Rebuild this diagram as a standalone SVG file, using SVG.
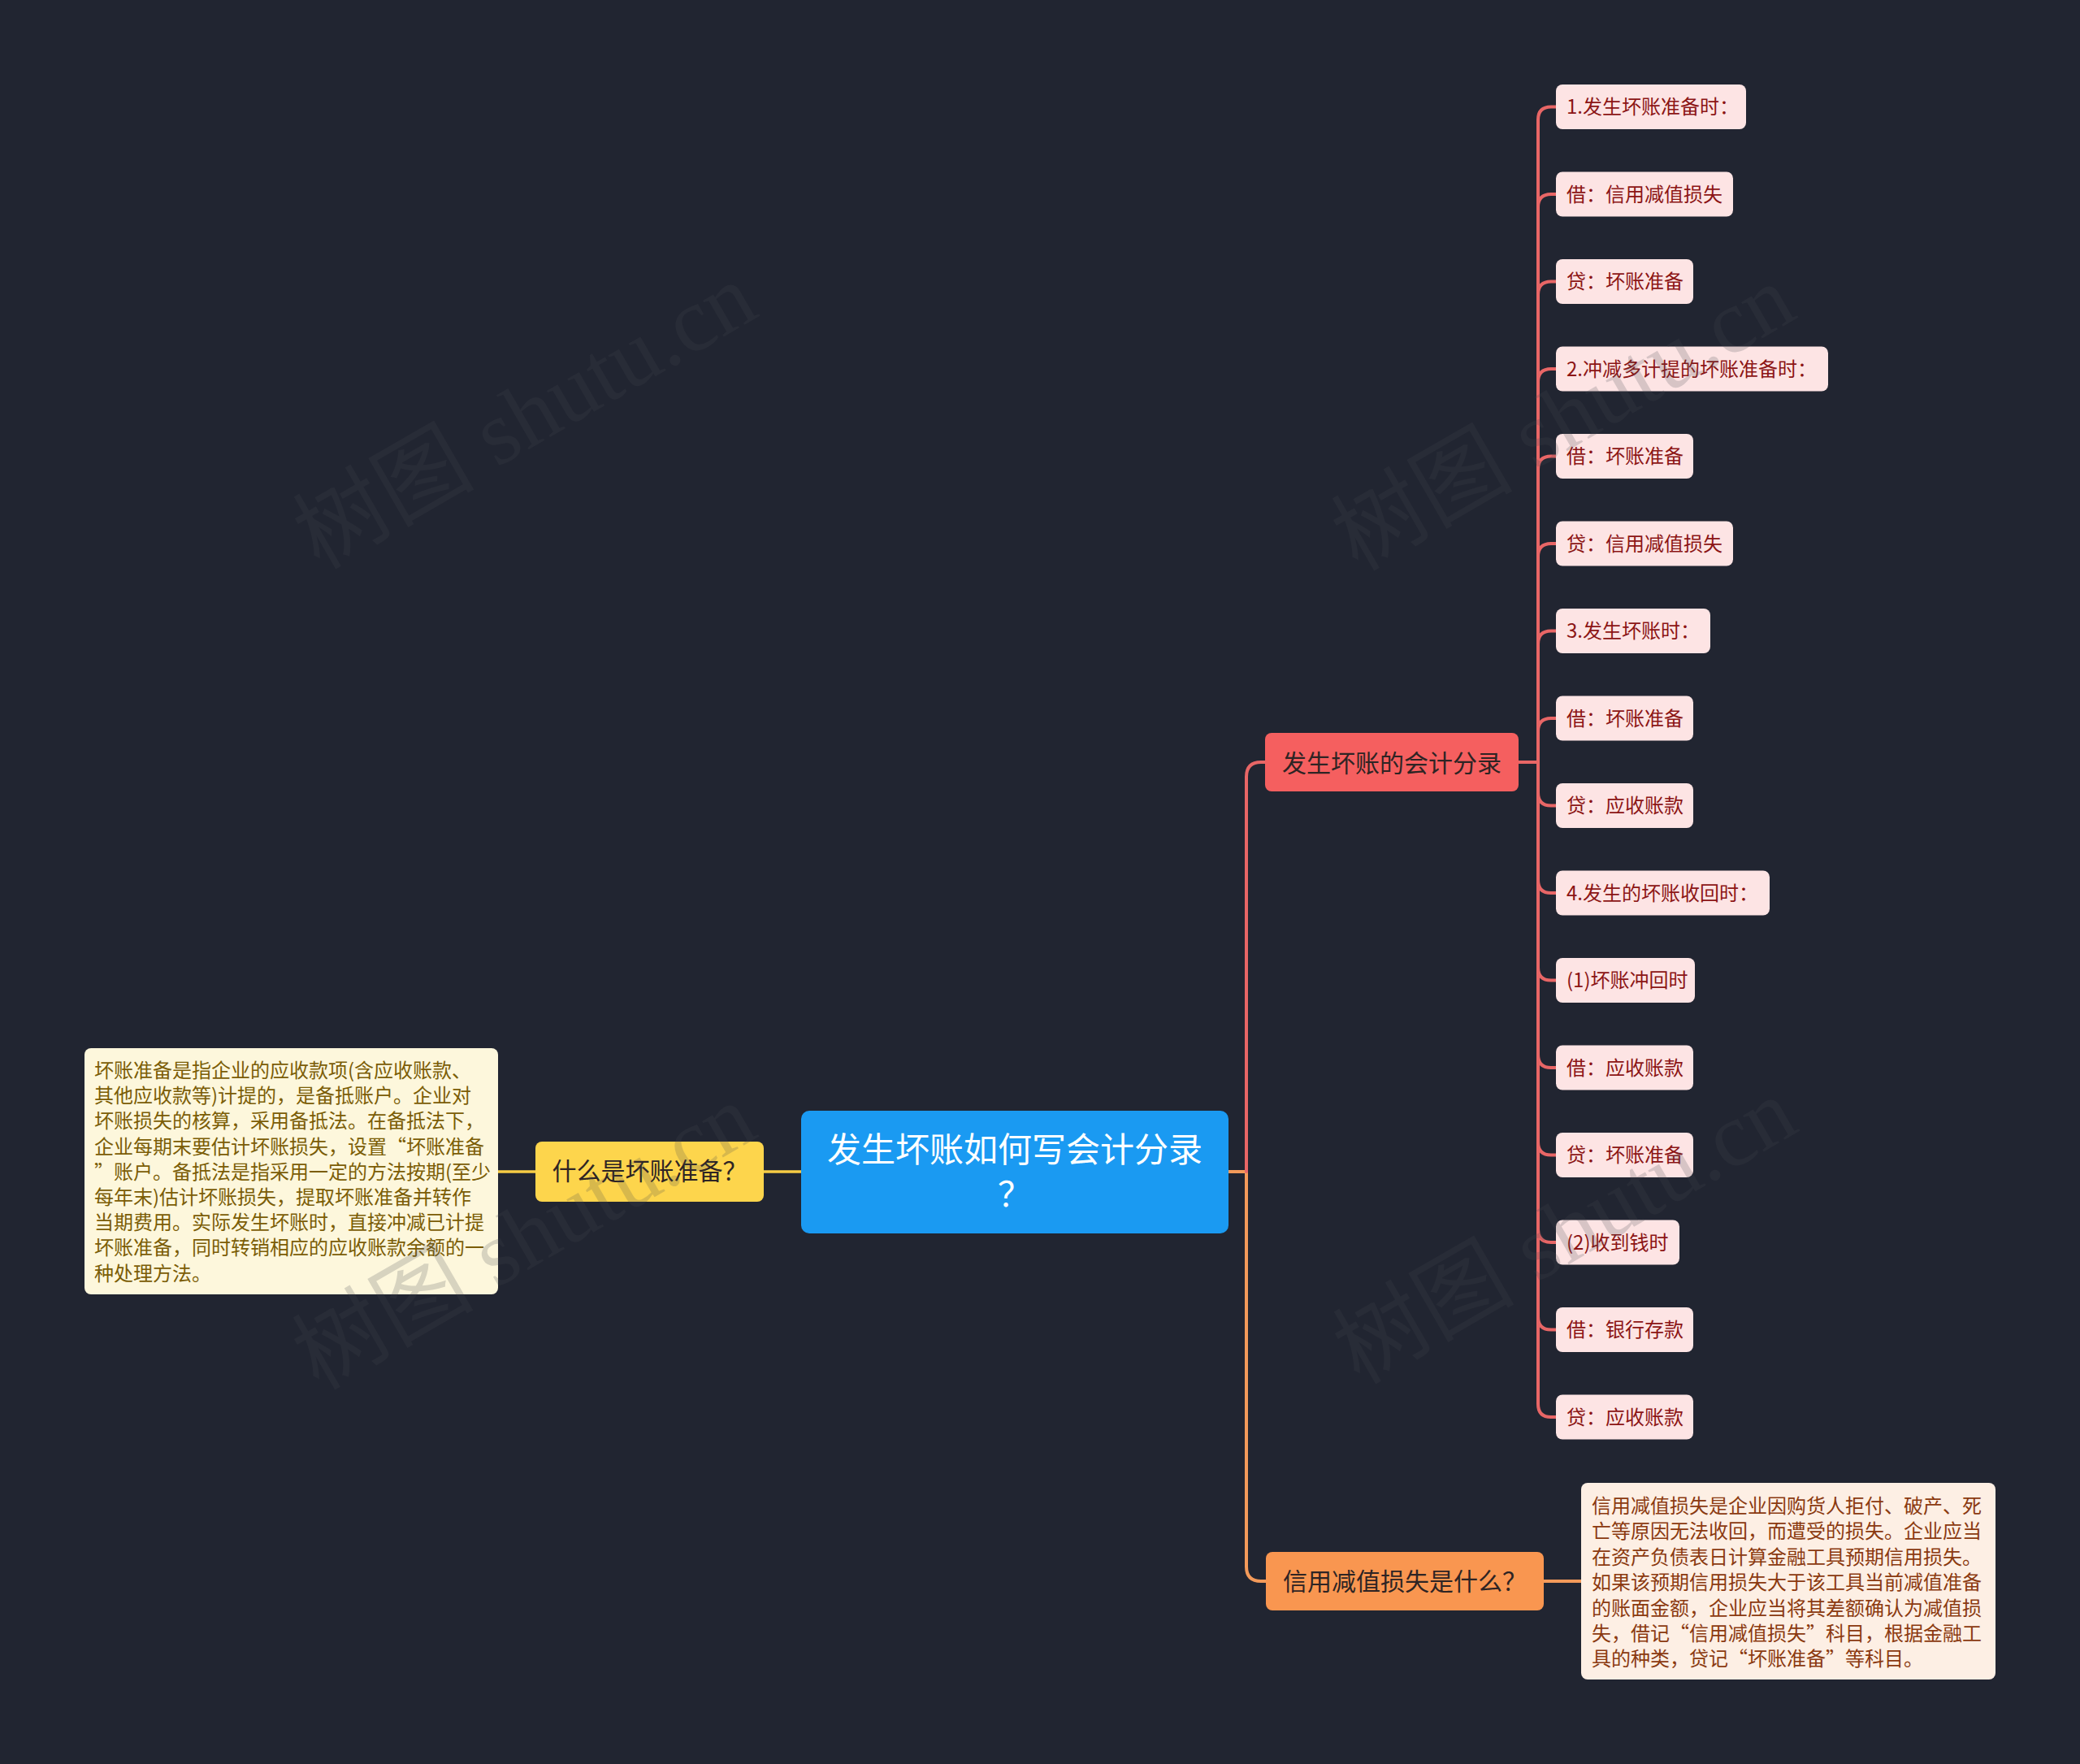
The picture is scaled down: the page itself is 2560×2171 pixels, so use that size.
<svg xmlns="http://www.w3.org/2000/svg" width="2560" height="2171" viewBox="0 0 2560 2171">
<style>
text{font-family:"Noto Sans CJK SC","Noto Sans",sans-serif}
.leaf rect{fill:#fde4e4}
.leaf text{font-size:24px;fill:#8c1515}
.lbl{font-size:30px;fill:#2e2424}
.body{font-size:24px}
.wm{font-family:"Liberation Serif","Noto Sans CJK SC",serif;font-size:112px;fill:#464850;opacity:0.2}
.cr{fill:none;stroke:#e86666;stroke-width:4;stroke-linecap:round}
.co{fill:none;stroke:#f39a5a;stroke-width:4}
.cy{fill:none;stroke:#f6cc44;stroke-width:3.5}
</style>
<rect x="0" y="0" width="2560" height="2171" fill="#212531"/>
<g id="connectors">
<path class="cy" d="M986 1442 H940"/>
<path class="cy" d="M659 1442 H613"/>
<path class="co" d="M1512 1442 H1534 V1928 Q1534 1946 1552 1946 H1558"/>
<path class="co" d="M1900 1946 H1946"/>
<path class="cr" d="M1534 1442 V956 Q1534 938 1552 938 H1557"/>
<g class="cr">
<path d="M1869 938 H1893 V147.5 Q1893 131.5 1909 131.5 H1915"/>
<path d="M1869 938 H1893 V255 Q1893 239 1909 239 H1915"/>
<path d="M1869 938 H1893 V362.5 Q1893 346.5 1909 346.5 H1915"/>
<path d="M1869 938 H1893 V470 Q1893 454 1909 454 H1915"/>
<path d="M1869 938 H1893 V577.5 Q1893 561.5 1909 561.5 H1915"/>
<path d="M1869 938 H1893 V685 Q1893 669 1909 669 H1915"/>
<path d="M1869 938 H1893 V792.5 Q1893 776.5 1909 776.5 H1915"/>
<path d="M1869 938 H1893 V900 Q1893 884 1909 884 H1915"/>
<path d="M1869 938 H1893 V975.5 Q1893 991.5 1909 991.5 H1915"/>
<path d="M1869 938 H1893 V1083 Q1893 1099 1909 1099 H1915"/>
<path d="M1869 938 H1893 V1190.5 Q1893 1206.5 1909 1206.5 H1915"/>
<path d="M1869 938 H1893 V1298 Q1893 1314 1909 1314 H1915"/>
<path d="M1869 938 H1893 V1405.5 Q1893 1421.5 1909 1421.5 H1915"/>
<path d="M1869 938 H1893 V1513 Q1893 1529 1909 1529 H1915"/>
<path d="M1869 938 H1893 V1620.5 Q1893 1636.5 1909 1636.5 H1915"/>
<path d="M1869 938 H1893 V1728 Q1893 1744 1909 1744 H1915"/>
</g>
</g>
<g id="center">
<rect x="986" y="1367" width="526" height="151" rx="10" fill="#1a9af2"/>
<text x="1249" y="1430" font-size="42" fill="#ffffff" text-anchor="middle">发生坏账如何写会计分录</text>
<text x="1249" y="1485" font-size="42" fill="#ffffff" text-anchor="middle">？</text>
</g>
<g id="n-what-bad-debt">
<rect x="659" y="1405" width="281" height="74" rx="8" fill="#fdd54c"/>
<text class="lbl" x="799.5" y="1452" text-anchor="middle">什么是坏账准备？</text>
</g>
<g id="n-bad-debt-desc">
<rect x="104" y="1290" width="509" height="303" rx="8" fill="#fdf7dc"/>
<text class="body" fill="#7b5d06">
<tspan x="116" y="1326">坏账准备是指企业的应收款项(含应收账款、</tspan>
<tspan x="116" y="1357.2">其他应收款等)计提的，是备抵账户。企业对</tspan>
<tspan x="116" y="1388.4">坏账损失的核算，采用备抵法。在备抵法下，</tspan>
<tspan x="116" y="1419.6">企业每期末要估计坏账损失，设置“坏账准备</tspan>
<tspan x="116" y="1450.8">”账户。备抵法是指采用一定的方法按期(至少</tspan>
<tspan x="116" y="1482">每年末)估计坏账损失，提取坏账准备并转作</tspan>
<tspan x="116" y="1513.2">当期费用。实际发生坏账时，直接冲减已计提</tspan>
<tspan x="116" y="1544.4">坏账准备，同时转销相应的应收账款余额的一</tspan>
<tspan x="116" y="1575.6">种处理方法。</tspan>
</text>
</g>
<g id="n-entries">
<rect x="1557" y="902" width="312" height="72" rx="8" fill="#f55f5f"/>
<text class="lbl" x="1713" y="950" text-anchor="middle">发生坏账的会计分录</text>
</g>
<g id="n-credit-loss">
<rect x="1558" y="1910" width="342" height="72" rx="8" fill="#f99650"/>
<text class="lbl" x="1729" y="1957" text-anchor="middle">信用减值损失是什么？</text>
</g>
<g id="n-credit-loss-desc">
<rect x="1946" y="1825" width="510" height="242" rx="8" fill="#fdefe4"/>
<text font-size="24" fill="#8b3a10">
<tspan x="1959" y="1862">信用减值损失是企业因购货人拒付、破产、死</tspan>
<tspan x="1959" y="1893.4">亡等原因无法收回，而遭受的损失。企业应当</tspan>
<tspan x="1959" y="1924.8">在资产负债表日计算金融工具预期信用损失。</tspan>
<tspan x="1959" y="1956.2">如果该预期信用损失大于该工具当前减值准备</tspan>
<tspan x="1959" y="1987.6">的账面金额，企业应当将其差额确认为减值损</tspan>
<tspan x="1959" y="2019">失，借记“信用减值损失”科目，根据金融工</tspan>
<tspan x="1959" y="2050.4">具的种类，贷记“坏账准备”等科目。</tspan>
</text>
</g>
<g id="leaf1" class="leaf"><rect x="1915" y="104" width="234" height="55" rx="8"/><text x="1928" y="140">1.发生坏账准备时：</text></g>
<g id="leaf2" class="leaf"><rect x="1915" y="211.5" width="218" height="55" rx="8"/><text x="1928" y="247.5">借：信用减值损失</text></g>
<g id="leaf3" class="leaf"><rect x="1915" y="319" width="169" height="55" rx="8"/><text x="1928" y="355">贷：坏账准备</text></g>
<g id="leaf4" class="leaf"><rect x="1915" y="426.5" width="335" height="55" rx="8"/><text x="1928" y="462.5">2.冲减多计提的坏账准备时：</text></g>
<g id="leaf5" class="leaf"><rect x="1915" y="534" width="169" height="55" rx="8"/><text x="1928" y="570">借：坏账准备</text></g>
<g id="leaf6" class="leaf"><rect x="1915" y="641.5" width="218" height="55" rx="8"/><text x="1928" y="677.5">贷：信用减值损失</text></g>
<g id="leaf7" class="leaf"><rect x="1915" y="749" width="190" height="55" rx="8"/><text x="1928" y="785">3.发生坏账时：</text></g>
<g id="leaf8" class="leaf"><rect x="1915" y="856.5" width="169" height="55" rx="8"/><text x="1928" y="892.5">借：坏账准备</text></g>
<g id="leaf9" class="leaf"><rect x="1915" y="964" width="169" height="55" rx="8"/><text x="1928" y="1000">贷：应收账款</text></g>
<g id="leaf10" class="leaf"><rect x="1915" y="1071.5" width="263" height="55" rx="8"/><text x="1928" y="1107.5">4.发生的坏账收回时：</text></g>
<g id="leaf11" class="leaf"><rect x="1915" y="1179" width="171" height="55" rx="8"/><text x="1928" y="1215">(1)坏账冲回时</text></g>
<g id="leaf12" class="leaf"><rect x="1915" y="1286.5" width="169" height="55" rx="8"/><text x="1928" y="1322.5">借：应收账款</text></g>
<g id="leaf13" class="leaf"><rect x="1915" y="1394" width="169" height="55" rx="8"/><text x="1928" y="1430">贷：坏账准备</text></g>
<g id="leaf14" class="leaf"><rect x="1915" y="1501.5" width="152" height="55" rx="8"/><text x="1928" y="1537.5">(2)收到钱时</text></g>
<g id="leaf15" class="leaf"><rect x="1915" y="1609" width="169" height="55" rx="8"/><text x="1928" y="1645">借：银行存款</text></g>
<g id="leaf16" class="leaf"><rect x="1915" y="1716.5" width="169" height="55" rx="8"/><text x="1928" y="1752.5">贷：应收账款</text></g>
<g id="watermarks">
<text class="wm" x="646" y="550" text-anchor="middle" transform="rotate(-30 646 512)">树图 shutu.cn</text>
<text class="wm" x="1924" y="552" text-anchor="middle" transform="rotate(-30 1924 514)">树图 shutu.cn</text>
<text class="wm" x="645" y="1560" text-anchor="middle" transform="rotate(-30 645 1522)">树图 shutu.cn</text>
<text class="wm" x="1926" y="1553" text-anchor="middle" transform="rotate(-30 1926 1515)">树图 shutu.cn</text>
</g>
</svg>
